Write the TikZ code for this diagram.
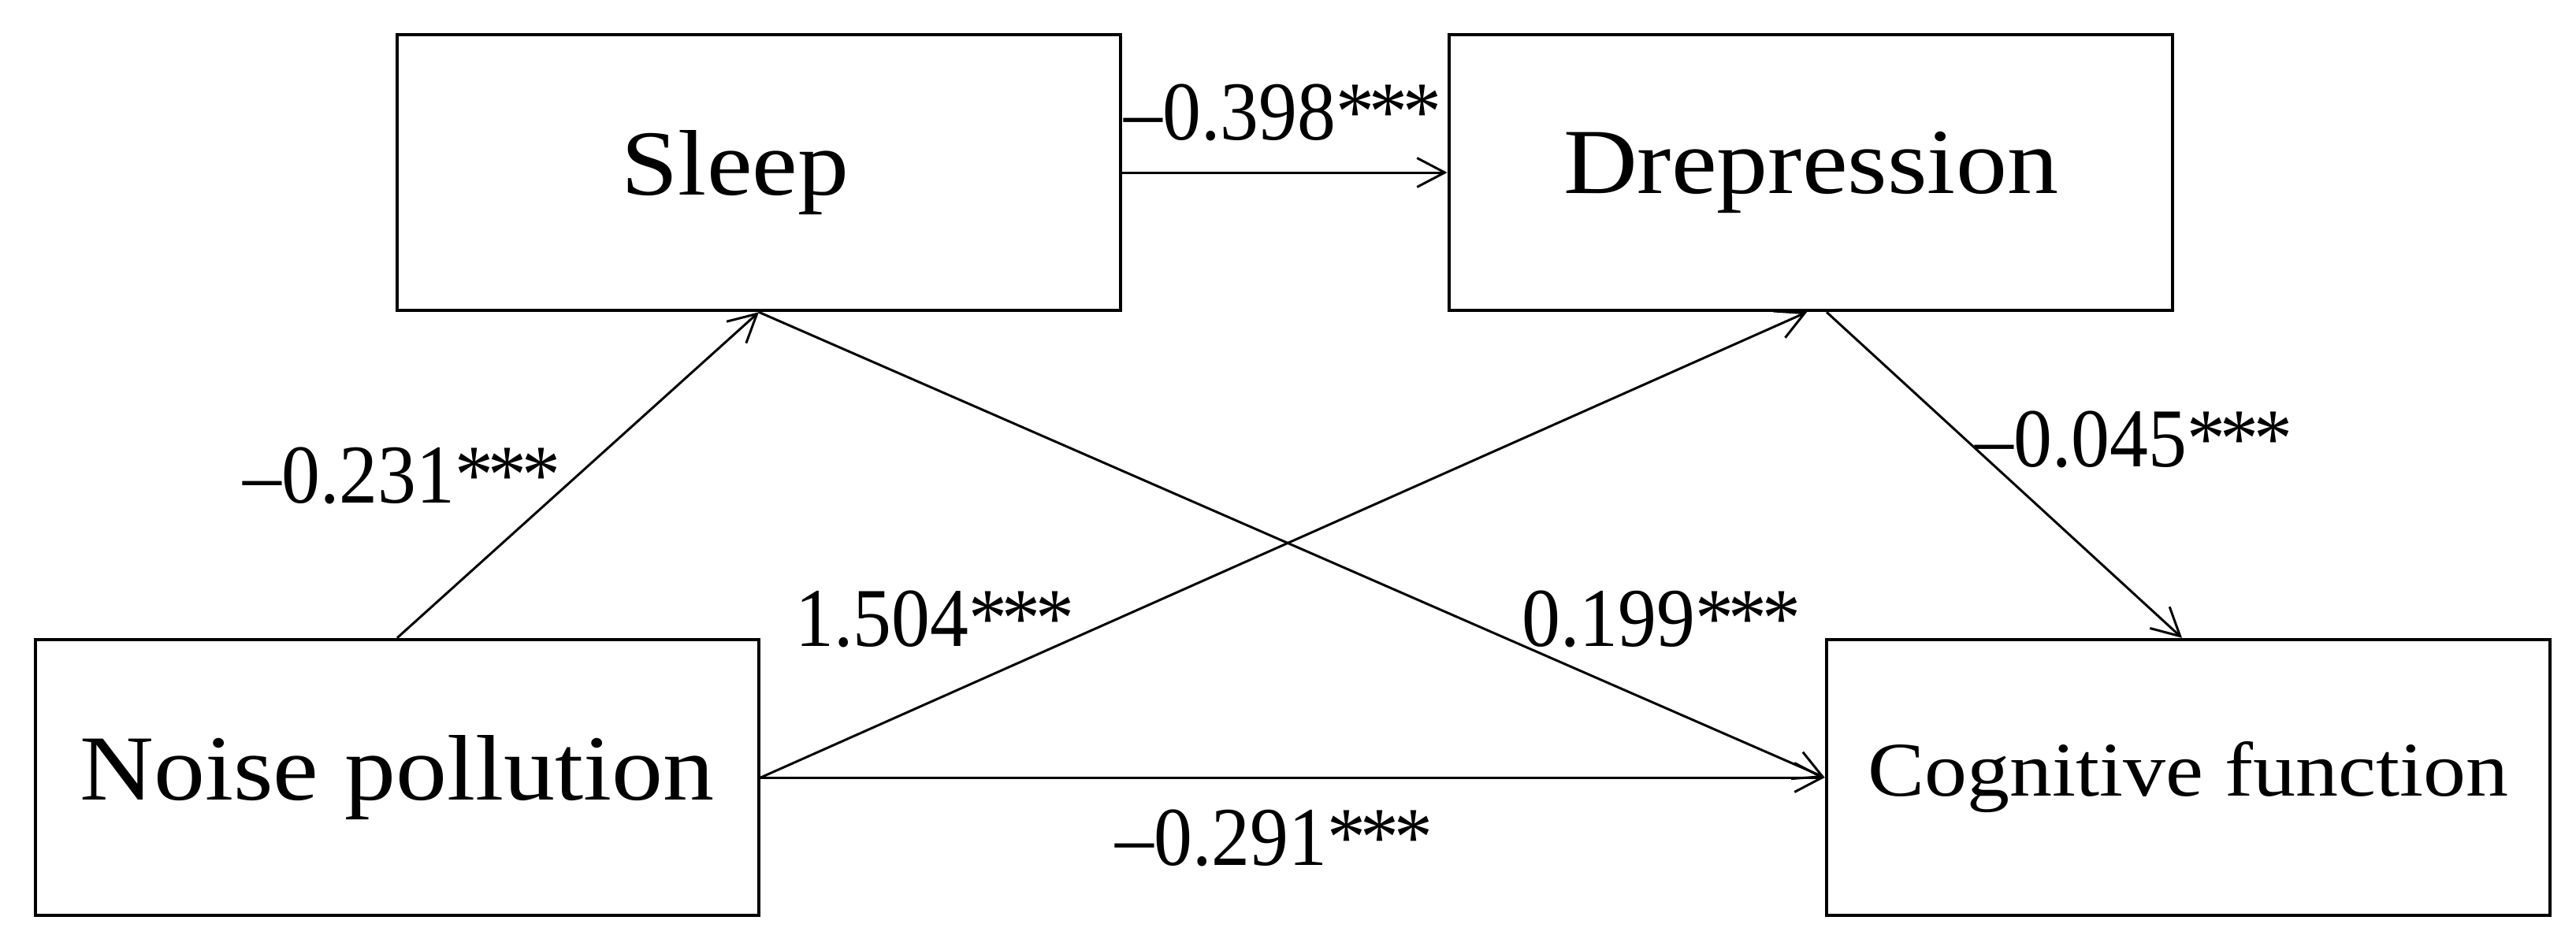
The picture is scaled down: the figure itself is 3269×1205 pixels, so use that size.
\documentclass[tikz,border=0pt]{standalone}
\usepackage{fontspec}
\setmainfont[FakeStretch=1.1]{Liberation Serif}
\newfontfamily\labfont[FakeStretch=0.92]{Liberation Serif}
\usetikzlibrary{arrows.meta}
\newcommand{\stars}{*\kern-0.06em*\kern-0.06em*}
\begin{document}
\begin{tikzpicture}[x=0.01cm,y=-0.01cm,
  box/.style={draw,line width=1.2pt,minimum width=9.18cm,minimum height=3.5cm,inner sep=0pt,
    font=\fontsize{33.6pt}{40pt}\selectfont},
  conn/.style={line width=0.85pt,-{Straight Barb[length=10pt,width=10.5pt]}},
  lab/.style={anchor=base,inner sep=0pt,font=\labfont\fontsize{30.2pt}{36pt}\selectfont}]
\useasboundingbox (0,0) rectangle (3269,1205);
\fill[white] (0,0) rectangle (3269,1205);
% boxes
\node[box] (sleep) at (963,219) {Sleep\kern0.6cm};
\node[box] (drep) at (2298,219) {Drepression};
\node[box] (noise) at (504,987) {Noise pollution};
\node[box,font=\fontsize{27.9pt}{34pt}\selectfont] (cog) at (2777,987) {Cognitive function};
% connectors
\draw[conn] (sleep.east) -- (drep.west);
\draw[conn] (noise.north) -- (sleep.south);
\draw[conn] (sleep.south) -- (cog.west);
\draw[conn] (noise.east) -- ([xshift=-0.05cm]drep.south);
\draw[conn] ([xshift=0.2cm]drep.south) -- ([xshift=-0.08cm]cog.north);
\draw[conn] (noise.east) -- (cog.west);
% labels
\node[lab] (l398) at (1628,177) {\textendash0.398\stars};
\node[lab] (l231) at (510,638) {\textendash0.231\stars};
\node[lab] (l504) at (1186,820) {1.504\stars};
\node[lab] (l199) at (2108,820) {0.199\stars};
\node[lab] (l045) at (2708,592) {\textendash0.045\stars};
\node[lab] (l291) at (1617,1098) {\textendash0.291\stars};
\end{tikzpicture}
\end{document}
